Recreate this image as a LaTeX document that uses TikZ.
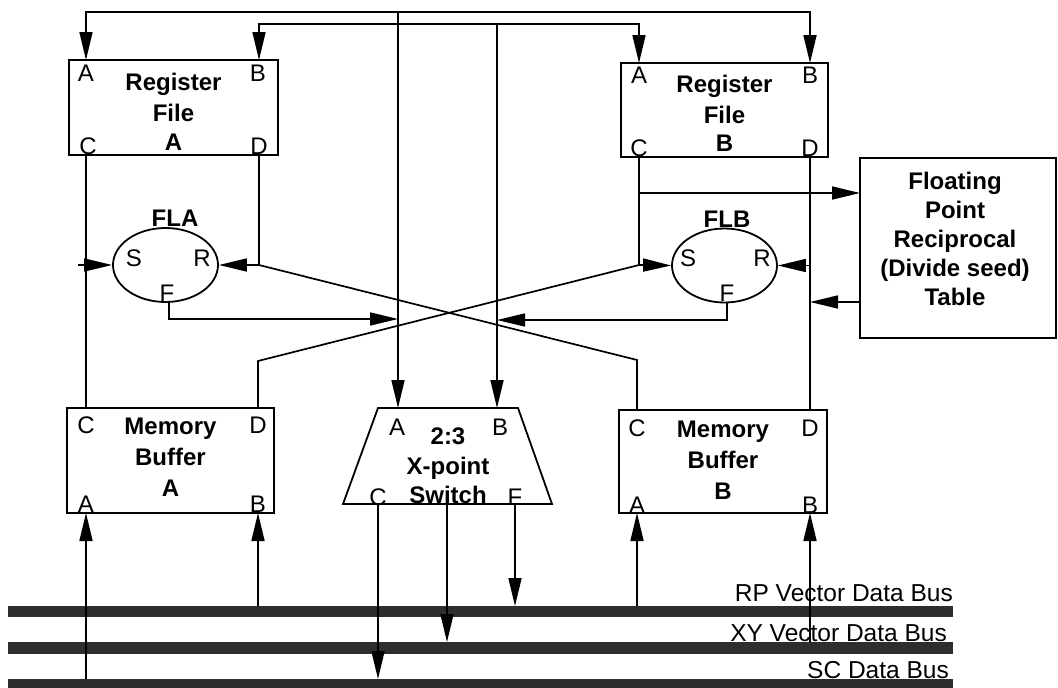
\documentclass[tikz,border=0pt]{standalone}
\usepackage{fontspec}
\setmainfont{Liberation Sans}
\usetikzlibrary{arrows.meta,shapes.geometric}
\begin{document}
\begin{tikzpicture}[x=1pt,y=-1pt,
  wire/.style={line width=1.7pt},
  arr/.style={wire,-{Triangle[length=28pt,width=13pt]}},
  blk/.style={draw,line width=1.8pt,rectangle,inner sep=0pt},
  lbl/.style={font=\fontsize{24}{30}\selectfont\bfseries,anchor=base,inner sep=0pt},
  port/.style={font=\fontsize{24}{26}\selectfont,inner sep=0pt},
  bus/.style={fill=black!82,draw=none},
  buslbl/.style={font=\fontsize{24.5}{26}\selectfont,anchor=east,inner sep=0pt},
  fl/.style={draw,ellipse,line width=1.8pt,minimum width=105pt,minimum height=74pt,inner sep=0pt}
]
\useasboundingbox (0,0) rectangle (1058,688);

% buses
\fill[bus] (8,606) rectangle (953,617);
\fill[bus] (8,642) rectangle (953,654);
\fill[bus] (8,679) rectangle (953,690);
\node[buslbl] (lrp) at (953,593) {RP Vector Data Bus};
\node[buslbl] (lxy) at (947,633) {XY Vector Data Bus};
\node[buslbl] (lsc) at (949,670) {SC Data Bus};

% blocks
\node[blk,minimum width=209pt,minimum height=95pt] (rfa) at (173.5,107.5) {};
\node[blk,minimum width=207pt,minimum height=94pt] (rfb) at (724.5,110) {};
\node[blk,minimum width=207pt,minimum height=105pt] (mba) at (170.5,460.5) {};
\node[blk,minimum width=208pt,minimum height=103pt] (mbb) at (723,461.5) {};
\node[blk,minimum width=196pt,minimum height=180pt] (fp) at (958,248) {};
\node[fl] (fla) at (165.5,265) {};
\node[fl] (flb) at (724.5,265.5) {};
\coordinate (sw1) at (378,408);
\coordinate (sw2) at (518,408);
\coordinate (sw3) at (552,504);
\coordinate (sw4) at (343,504);
\draw[line width=1.8pt] (sw1) -- (sw2) -- (sw3) -- (sw4) -- cycle;

% block texts
\node[lbl] (rfa1) at (173.5,90) {Register};
\node[lbl] (rfa2) at (173.5,121) {File};
\node[lbl] (rfa3) at (173.5,150) {A};
\node[lbl] (rfb1) at (724.5,92) {Register};
\node[lbl] (rfb2) at (724.5,123) {File};
\node[lbl] (rfb3) at (724.5,151) {B};
\node[lbl] (mba1) at (170.5,434) {Memory};
\node[lbl] (mba2) at (170.5,465) {Buffer};
\node[lbl] (mba3) at (170.5,496) {A};
\node[lbl] (mbb1) at (723,437) {Memory};
\node[lbl] (mbb2) at (723,468) {Buffer};
\node[lbl] (mbb3) at (723,499) {B};
\node[lbl] (fp1) at (955,189) {Floating};
\node[lbl] (fp2) at (955,218) {Point};
\node[lbl] (fp3) at (955,247) {Reciprocal};
\node[lbl] (fp4) at (955,276) {(Divide seed)};
\node[lbl] (fp5) at (955,305) {Table};
\node[lbl] (sw5) at (448,444) {2:3};
\node[lbl] (sw6) at (448,474) {X-point};
\node[lbl] (sw7) at (448,503) {Switch};
\node[lbl] (flal) at (175,226) {FLA};
\node[lbl] (flbl) at (727,227) {FLB};

% port letters
\node[port] (pa1) at (86,73) {A};
\node[port] (pa2) at (258,73) {B};
\node[port] (pa3) at (88,146) {C};
\node[port] (pa4) at (259,146) {D};
\node[port] (pb1) at (639,75) {A};
\node[port] (pb2) at (810,75) {B};
\node[port] (pb3) at (639,148) {C};
\node[port] (pb4) at (810,148) {D};
\node[port] (ma1) at (86,425) {C};
\node[port] (ma2) at (258,425) {D};
\node[port] (ma3) at (86,504) {A};
\node[port] (ma4) at (258,504) {B};
\node[port] (mb1) at (637,428) {C};
\node[port] (mb2) at (810,428) {D};
\node[port] (mb3) at (637,505) {A};
\node[port] (mb4) at (810,505) {B};
\node[port] (s1) at (397,427) {A};
\node[port] (s2) at (500,427) {B};
\node[port] (s3) at (378,497) {C};
\node[port] (s4) at (515,497) {F};
\node[port] (fa1) at (134,258) {S};
\node[port] (fa2) at (202,258) {R};
\node[port] (fa3) at (167,293) {F};
\node[port] (fb1) at (688,258) {S};
\node[port] (fb2) at (762,258) {R};
\node[port] (fb3) at (727,293) {F};

% coordinates
\coordinate (j1) at (398,12);
\coordinate (j2) at (497,24);
\coordinate (rfaA) at (86,60);
\coordinate (rfaB) at (259,60);
\coordinate (rfaC) at (86,155);
\coordinate (rfaD) at (259,155);
\coordinate (rfbA) at (639,63);
\coordinate (rfbB) at (810,63);
\coordinate (rfbC) at (639,157);
\coordinate (rfbD) at (810,157);
\coordinate (mbaC) at (86,408);
\coordinate (mbaD) at (258,408);
\coordinate (mbaA) at (86,513);
\coordinate (mbaB) at (258,513);
\coordinate (mbbC) at (637,410);
\coordinate (mbbD) at (810,410);
\coordinate (mbbA) at (637,513);
\coordinate (mbbB) at (810,513);
\coordinate (swA) at (398,408);
\coordinate (swB) at (497,408);
\coordinate (swC) at (378,504);
\coordinate (swD) at (447,504);
\coordinate (swE) at (515,504);
\coordinate (sAs) at (78,265);
\coordinate (dA) at (259,265);
\coordinate (kB) at (637,360);
\coordinate (kA) at (258,361);
\coordinate (sB) at (639,265);
\coordinate (fpin) at (860,193);
\coordinate (fpout) at (860,302);
\coordinate (flaF) at (169,302);
\coordinate (flbF) at (727,302);
\coordinate (fAk) at (398,319);
\coordinate (fBk) at (497,320);
\coordinate (rpC) at (378,679);
\coordinate (xyD) at (447,642);
\coordinate (rpE) at (515,606);
\coordinate (scA) at (86,679);
\coordinate (rpB) at (258,606);
\coordinate (rpA2) at (637,606);
\coordinate (xyB2) at (810,642);

% connectors
\draw[arr] (j1) -| (rfaA);
\draw[arr] (j1) -| (rfbB);
\draw[arr] (j1) -- (swA);
\draw[arr] (j2) -| (rfaB);
\draw[arr] (j2) -| (rfbA);
\draw[arr] (j2) -- (swB);
\draw[wire] (rfaC) -- (mbaC);
\draw[arr] (sAs) -- (fla.west);
\draw[wire] (rfaD) -- (dA) -- (kB) -- (mbbC);
\draw[arr] (dA) -- (fla.east);
\draw[wire] (mbaD) -- (kA) -- (sB);
\draw[wire] (rfbC) -- (sB);
\draw[arr] (sB) -- (flb.west);
\draw[arr] (rfbC |- fpin) -- (fpin);
\draw[wire] (rfbD) -- (mbbD);
\draw[arr] (rfbD |- flb.east) -- (flb.east);
\draw[arr] (fpout) -- (rfbD |- fpout);
\draw[arr] (flaF) |- (fAk);
\draw[arr] (flbF) |- (fBk);
\draw[arr] (swC) -- (rpC);
\draw[arr] (swD) -- (xyD);
\draw[arr] (swE) -- (rpE);
\draw[arr] (scA) -- (mbaA);
\draw[arr] (rpB) -- (mbaB);
\draw[arr] (rpA2) -- (mbbA);
\draw[arr] (xyB2) -- (mbbB);
\end{tikzpicture}
\end{document}
